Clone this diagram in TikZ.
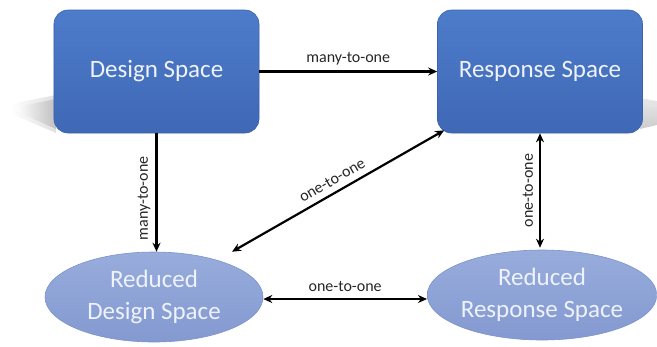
\documentclass[tikz,border=0pt]{standalone}
\usepackage{fontspec}
\setmainfont{Carlito}
\usetikzlibrary{shapes.geometric,arrows.meta,calc}
\definecolor{boxtop}{HTML}{4D7CCB}
\definecolor{boxbot}{HTML}{3F68B5}
\definecolor{boxedge}{HTML}{3A62AD}
\definecolor{elltop}{HTML}{98ACDC}
\definecolor{ellbot}{HTML}{8399D0}
\definecolor{elledge}{HTML}{7D92CB}
\definecolor{boxtext}{HTML}{EEF2FA}
\tikzset{
  spacebox/.style={rectangle, rounded corners=14bp, top color=boxtop, bottom color=boxbot,
    draw=boxedge, line width=0.6bp, minimum width=205bp, minimum height=123bp,
    text=boxtext, font=\fontsize{25bp}{30bp}\selectfont},
  reducedell/.style={ellipse, top color=elltop, bottom color=ellbot, draw=elledge, line width=0.6bp,
    minimum width=218bp, minimum height=90bp, inner sep=0pt, align=center,
    text=boxtext, font=\fontsize{25bp}{32bp}\selectfont},
  conn/.style={line width=2.2bp, black, -{Stealth[length=9bp,width=8bp]}},
  biconn/.style={line width=2.2bp, black, {Stealth[length=9bp,width=8bp]}-{Stealth[length=9bp,width=8bp]}},
  lbl/.style={font=\fontsize{16bp}{18bp}\selectfont, text=black!85, inner sep=2bp},
}
\begin{document}
\begin{tikzpicture}[x=1bp,y=-1bp]
\useasboundingbox (0,0) rectangle (657,346);
% soft perspective shadows
\shade[left color=white, right color=gray!25] (56,95) -- (10,104) -- (12,114) -- (56,133) -- cycle;
\shade[left color=white, right color=gray!50] (56,99) -- (16,107) -- (18,112) -- (56,129) -- cycle;
\shade[top color=gray!18, bottom color=gray!40] (640,98) -- (657,101) -- (657,125) -- (640,129) -- cycle;
% nodes
\node[spacebox] (ds) at (156.5,71.5) {Design Space};
\node[spacebox] (rs) at (540,71.5) {Response Space};
\node[reducedell] (rds) at (154,297) {Reduced\\Design Space};
\node[reducedell] (rrs) at (542,295) {Reduced\\Response Space};
% connectors
\draw[conn] (ds.east) -- node[lbl, above=3bp] {many-to-one} (rs.west);
\draw[conn] (ds.south) -- node[lbl, pos=0.55, rotate=90, anchor=south, yshift=3bp] {many-to-one} (ds.south |- rds.north);
\draw[biconn] ($(rs.south west)+(7,-3)$) coordinate (dtop) -- node[lbl, sloped, above=4bp] {one-to-one} ($(rds.north)+(78,0)$) coordinate (dbot);
\draw[biconn] (rs.south) -- node[lbl, pos=0.5, rotate=90, anchor=south, yshift=4bp] {one-to-one} ($(rs.south |- rrs.north)+(0,-2)$) coordinate (rbot);
\draw[biconn] ($(rds.east)+(0,2)$) coordinate (hl) -- node[lbl, above=4bp] {one-to-one} (hl -| rrs.west);
\end{tikzpicture}
\end{document}
